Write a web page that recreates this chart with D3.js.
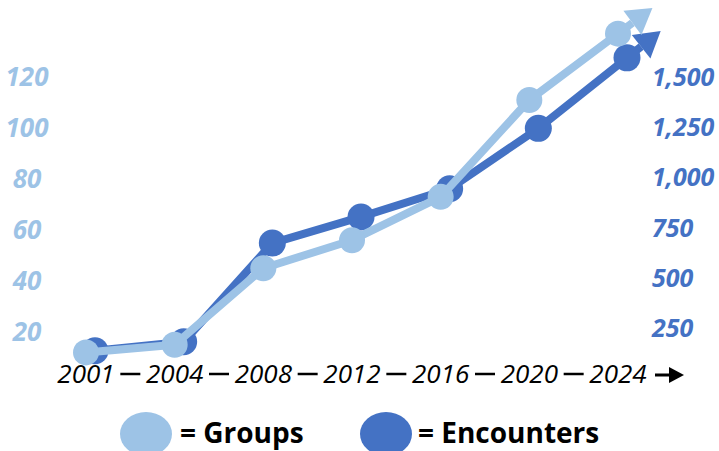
<!DOCTYPE html>
<html>
<head>
<meta charset="utf-8">
<script src="https://cdn.jsdelivr.net/npm/d3@7"></script>
<style>
  html, body { margin: 0; padding: 0; background: #ffffff; }
  svg { display: block; }
</style>
</head>
<body>
<svg id="chart" width="719" height="451"></svg>
<script>
// ---- data ----
const years = ["2001", "2004", "2008", "2012", "2016", "2020", "2024"];
const groups = [12, 15, 45, 56, 73, 111, 137];
const encounters = [140, 185, 675, 805, 945, 1245, 1595];
const leftTicks = [20, 40, 60, 80, 100, 120];
const rightTicks = [250, 500, 750, 1000, 1250, 1500];
const legendLabels = ["= Groups", "= Encounters"];

// ---- styles ----
const LIGHT = "#9DC3E6";
const DARK = "#4472C4";
const FONT = "'Open Sans', 'Noto Sans', 'Liberation Sans', sans-serif";

const svg = d3.select("#chart");

const x = d3.scalePoint().domain(years).range([86, 618]);
const yLeft = d3.scaleLinear().domain([20, 120]).range([332, 77]);
const yRight = d3.scaleLinear().domain([750, 1500]).range([228, 77]);

// ---- left axis labels ----
svg.append("g").selectAll("text").data(leftTicks).join("text")
  .attr("x", 27)
  .attr("y", d => yLeft(d))
  .attr("dy", "0.35em")
  .attr("text-anchor", "middle")
  .attr("font-family", FONT)
  .attr("font-size", 26)
  .attr("font-weight", "bold")
  .attr("font-style", "italic")
  .attr("fill", LIGHT)
  .text(d => d);

// ---- right axis labels ----
const fmt = d3.format(",");
svg.append("g").selectAll("text").data(rightTicks).join("text")
  .attr("x", 652)
  .attr("y", d => yRight(d))
  .attr("dy", "0.35em")
  .attr("text-anchor", "start")
  .attr("font-family", FONT)
  .attr("font-size", 25)
  .attr("font-weight", "bold")
  .attr("font-style", "italic")
  .attr("fill", DARK)
  .text(d => fmt(d));

// ---- x axis labels with dashes & arrow ----
const xg = svg.append("g");
xg.selectAll("text.year").data(years).join("text")
  .attr("class", "year")
  .attr("x", d => x(d))
  .attr("y", 374)
  .attr("dy", "0.35em")
  .attr("text-anchor", "middle")
  .attr("font-family", FONT)
  .attr("font-size", 26)
  .attr("font-style", "italic")
  .attr("fill", "#000")
  .text(d => d);

const pairs = d3.pairs(years);
xg.selectAll("line.dash").data(pairs).join("line")
  .attr("class", "dash")
  .attr("x1", d => (x(d[0]) + x(d[1])) / 2 - 10)
  .attr("x2", d => (x(d[0]) + x(d[1])) / 2 + 10)
  .attr("y1", 374).attr("y2", 374)
  .attr("stroke", "#000").attr("stroke-width", 2.5);

// end arrow of x axis
const lastX = x(years[years.length - 1]);
xg.append("line")
  .attr("x1", lastX + 37).attr("x2", lastX + 54)
  .attr("y1", 375).attr("y2", 375)
  .attr("stroke", "#000").attr("stroke-width", 3);
xg.append("path")
  .attr("d", `M${lastX + 66},375 L${lastX + 51},367 L${lastX + 51},383 Z`)
  .attr("fill", "#000");

// ---- series ----
function drawSeries(values, yScale, color, dx, r) {
  const pts = years.map((yr, i) => [x(yr) + dx, yScale(values[i])]);
  const g = svg.append("g");
  const p1 = pts[pts.length - 2], p2 = pts[pts.length - 1];
  const vx = p2[0] - p1[0], vy = p2[1] - p1[1];
  const len = Math.hypot(vx, vy);
  const ux = vx / len, uy = vy / len;
  const tip = [p2[0] + ux * 43, p2[1] + uy * 43];
  const base = [tip[0] - ux * 25, tip[1] - uy * 25];
  const px = -uy, py = ux;
  g.append("path")
    .attr("d", d3.line()([...pts, base]))
    .attr("fill", "none")
    .attr("stroke", color)
    .attr("stroke-width", 8)
    .attr("stroke-linejoin", "round");
  g.append("path")
    .attr("d", `M${tip[0]},${tip[1]} L${base[0] + px * 15},${base[1] + py * 15} L${base[0] - px * 15},${base[1] - py * 15} Z`)
    .attr("fill", color);
  g.selectAll("circle").data(pts).join("circle")
    .attr("cx", d => d[0]).attr("cy", d => d[1])
    .attr("r", r).attr("fill", color);
}

drawSeries(encounters, yRight, DARK, 9, 13.5);
drawSeries(groups, yLeft, LIGHT, 0, 13);

// ---- legend ----
const legend = svg.append("g");
const legendItems = [
  { label: legendLabels[0], color: LIGHT, cx: 146, tx: 180 },
  { label: legendLabels[1], color: DARK, cx: 386, tx: 418 }
];
legendItems.forEach(it => {
  legend.append("ellipse")
    .attr("cx", it.cx).attr("cy", 434)
    .attr("rx", 26).attr("ry", 22)
    .attr("fill", it.color);
  legend.append("text")
    .attr("x", it.tx).attr("y", 443)
    .attr("font-family", FONT)
    .attr("font-size", 28)
    .attr("font-weight", "bold")
    .attr("fill", "#000")
    .text(it.label);
});
</script>
</body>
</html>
